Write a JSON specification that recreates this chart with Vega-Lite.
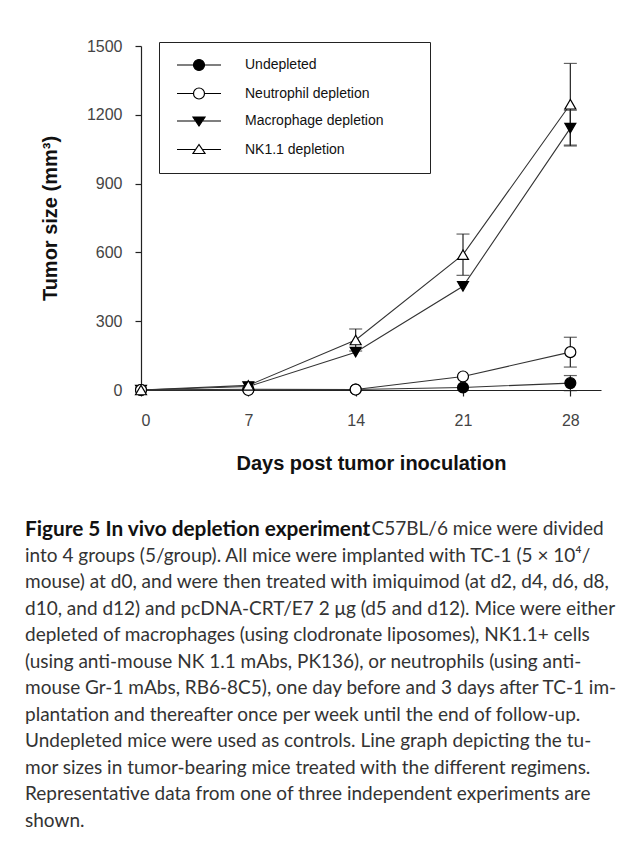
{
  "$schema": "https://vega.github.io/schema/vega-lite/v6.json",
  "autosize": {"type": "none"},
  "padding": {"left": 141, "top": 46, "right": 23, "bottom": 454},
  "width": 460,
  "height": 344,
  "background": "white",
  "config": {
    "view": {"stroke": null},
    "axis": {
      "grid": false,
      "domainColor": "#222",
      "tickColor": "#222",
      "domainWidth": 1.2,
      "tickWidth": 1.2,
      "tickSize": 6,
      "labelFont": "Liberation Sans",
      "labelFontSize": 16,
      "labelColor": "#444",
      "titleFont": "Liberation Sans",
      "titleFontSize": 20,
      "titleFontWeight": "bold",
      "titleColor": "#111"
    }
  },
  "title": {
    "text": "Figure 5 In vivo depletion experiment",
    "subtitle": [
      "\u200b\u2003\u2003\u2003\u2003\u2003\u2003\u2003\u2003\u2003\u2003\u2003\u2003\u2003\u2003\u2003\u2003\u2003\u2003\u2003\u2003\u2003\u2003\u2003\u2009\u2009\u2009\u2009. C57BL/6 mice were divided",
      "into 4 groups (5/group). All mice were implanted with TC-1 (5 × 10⁴/",
      "mouse) at d0, and were then treated with imiquimod (at d2, d4, d6, d8,",
      "d10, and d12) and pcDNA-CRT/E7 2 μg (d5 and d12). Mice were either",
      "depleted of macrophages (using clodronate liposomes), NK1.1+ cells",
      "(using anti-mouse NK 1.1 mAbs, PK136), or neutrophils (using anti-",
      "mouse Gr-1 mAbs, RB6-8C5), one day before and 3 days after TC-1 im-",
      "plantation and thereafter once per week until the end of follow-up.",
      "Undepleted mice were used as controls. Line graph depicting the tu-",
      "mor sizes in tumor-bearing mice treated with the different regimens.",
      "Representative data from one of three independent experiments are",
      "shown."
    ],
    "orient": "bottom",
    "anchor": "start",
    "frame": "group",
    "dx": -116,
    "offset": 47,
    "font": "Lato",
    "fontSize": 20.8,
    "fontWeight": "bold",
    "color": "#111",
    "subtitleFont": "Lato",
    "subtitleFontSize": 19,
    "subtitleFontWeight": "normal",
    "subtitleColor": "#333",
    "subtitleLineHeight": 26.5,
    "subtitlePadding": -20.8
  },
  "data": {
    "values": [
      {"day": 0, "group": "Undepleted", "size": 0, "err": 0},
      {"day": 7, "group": "Undepleted", "size": 3, "err": 0},
      {"day": 14, "group": "Undepleted", "size": 2, "err": 0},
      {"day": 21, "group": "Undepleted", "size": 11, "err": 0},
      {"day": 28, "group": "Undepleted", "size": 30, "err": 33},
      {"day": 0, "group": "Macrophage depletion", "size": 0, "err": 0},
      {"day": 7, "group": "Macrophage depletion", "size": 15, "err": 0},
      {"day": 14, "group": "Macrophage depletion", "size": 165, "err": 0},
      {"day": 21, "group": "Macrophage depletion", "size": 452, "err": 0},
      {"day": 28, "group": "Macrophage depletion", "size": 1142, "err": 78},
      {"day": 0, "group": "Neutrophil depletion", "size": 0, "err": 0},
      {"day": 7, "group": "Neutrophil depletion", "size": 0, "err": 0},
      {"day": 14, "group": "Neutrophil depletion", "size": 2, "err": 0},
      {"day": 21, "group": "Neutrophil depletion", "size": 59, "err": 0},
      {"day": 28, "group": "Neutrophil depletion", "size": 165, "err": 65},
      {"day": 0, "group": "NK1.1 depletion", "size": 0, "err": 0},
      {"day": 7, "group": "NK1.1 depletion", "size": 20, "err": 0},
      {"day": 14, "group": "NK1.1 depletion", "size": 218, "err": 48},
      {"day": 21, "group": "NK1.1 depletion", "size": 590, "err": 90},
      {"day": 28, "group": "NK1.1 depletion", "size": 1246, "err": 178}
    ]
  },
  "encoding": {
    "x": {
      "field": "day",
      "type": "quantitative",
      "scale": {"domain": [0, 30], "nice": false},
      "axis": {"values": [0, 7, 14, 21, 28], "title": "Days post tumor inoculation", "labelPadding": 16, "titlePadding": 25}
    },
    "y": {
      "field": "size",
      "type": "quantitative",
      "scale": {"domain": [0, 1500], "nice": false},
      "axis": {"values": [0, 300, 600, 900, 1200, 1500], "format": "d", "title": "Tumor size (mm³)", "labelPadding": 13, "titlePadding": 26}
    }
  },
  "resolve": {"scale": {"shape": "independent", "fill": "independent"}, "legend": {"shape": "independent", "fill": "independent"}},
  "layer": [
    {
      "mark": {"type": "line", "color": "#333", "strokeWidth": 1.1},
      "encoding": {"detail": {"field": "group"}, "order": {"field": "day"}}
    },
    {
      "transform": [{"filter": "datum.err > 0"}],
      "mark": {
        "type": "errorbar",
        "ticks": {"size": 13, "thickness": 1.2, "color": "#222"},
        "rule": {"color": "#222", "strokeWidth": 1.2}
      },
      "encoding": {"yError": {"field": "err"}}
    },
    {
      "mark": {"type": "point", "opacity": 0, "size": 100, "stroke": "#000", "strokeWidth": 1.2},
      "encoding": {
        "shape": {
          "field": "group",
          "type": "nominal",
          "scale": {
            "domain": ["Undepleted", "Neutrophil depletion", "Macrophage depletion", "NK1.1 depletion"],
            "range": [
              "M-1,0H2.3M4.5,0H7.8M4.5,0A1.1,1.1,0,1,1,2.3,0A1.1,1.1,0,1,1,4.5,0Z",
              "M-1,0H2.3M4.5,0H7.8M4.5,0A1.1,1.1,0,1,1,2.3,0A1.1,1.1,0,1,1,4.5,0Z",
              "M-1,0H7.8M2.2,-0.8L4.6,-0.8L3.4,1Z",
              "M-1,0H2.73M4.07,0H7.8M2.2,0.8L4.6,0.8L3.4,-1Z"
            ]
          },
          "legend": {
            "title": "\u200b",
            "titleOrient": "right",
            "titlePadding": 30,
            "titleFontSize": 14,
            "orient": "none",
            "legendX": 18,
            "legendY": -4,
            "strokeColor": "#222",
            "fillColor": "white",
            "padding": 16,
            "symbolSize": 100,
            "symbolOpacity": 1,
            "symbolStrokeWidth": 1.2,
            "labelFont": "Liberation Sans",
            "labelFontSize": 14,
            "labelColor": "#111",
            "labelOffset": 56,
            "labelLimit": 400,
            "rowPadding": 12.5
          }
        },
        "fill": {
          "field": "group",
          "type": "nominal",
          "scale": {
            "domain": ["Undepleted", "Neutrophil depletion", "Macrophage depletion", "NK1.1 depletion"],
            "range": ["#000", "#fff", "#000", "#fff"]
          },
          "legend": {
            "title": "\u200b",
            "titleOrient": "right",
            "titlePadding": 30,
            "titleFontSize": 14,
            "orient": "none",
            "legendX": 18,
            "legendY": -4,
            "strokeColor": "#222",
            "fillColor": "white",
            "padding": 16,
            "symbolSize": 100,
            "symbolOpacity": 1,
            "symbolStrokeWidth": 1.2,
            "labelFont": "Liberation Sans",
            "labelFontSize": 14,
            "labelColor": "#111",
            "labelOffset": 56,
            "labelLimit": 400,
            "rowPadding": 12.5
          }
        }
      }
    },
    {
      "mark": {"type": "point", "size": 120, "stroke": "#000", "strokeWidth": 1.2, "opacity": 1, "fillOpacity": 1},
      "encoding": {
        "shape": {
          "field": "group",
          "type": "nominal",
          "scale": {
            "domain": ["Undepleted", "Macrophage depletion", "Neutrophil depletion", "NK1.1 depletion"],
            "range": ["circle", "triangle-down", "circle", "triangle-up"]
          },
          "legend": null
        },
        "fill": {
          "field": "group",
          "type": "nominal",
          "scale": {
            "domain": ["Undepleted", "Macrophage depletion", "Neutrophil depletion", "NK1.1 depletion"],
            "range": ["#000", "#000", "#fff", "#fff"]
          },
          "legend": null
        }
      }
    }
  ]
}
